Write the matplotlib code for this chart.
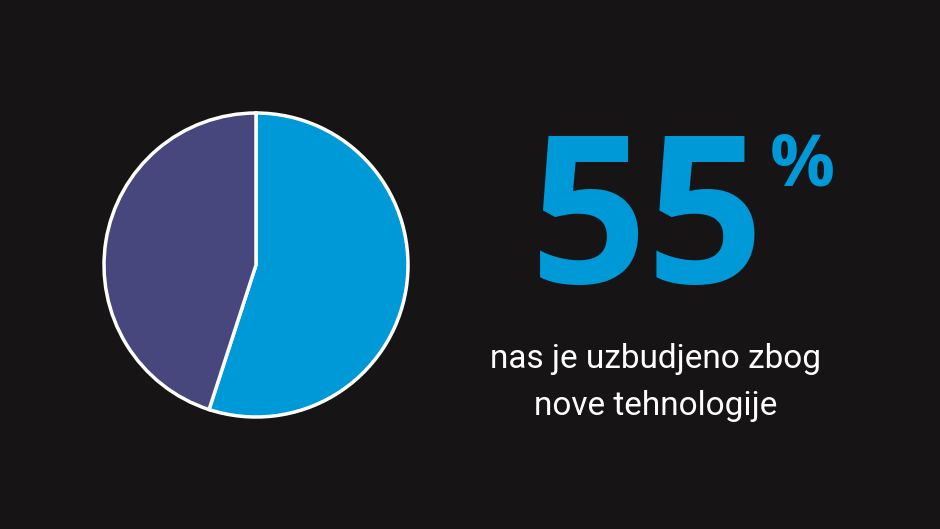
import matplotlib.pyplot as plt

# podaci
udjeli = [55, 45]
boje = ["#0099d8", "#47467d"]
postotak = "55"
opis = "nas je uzbudjeno zbog\nnove tehnologije"

W, H = 940, 529
pozadina = "#161415"

fig = plt.figure(figsize=(W / 100, H / 100), dpi=100, facecolor=pozadina)

# pita
cx, cy, r = 256, H - 265, 152
pol = 162
ax = fig.add_axes([(cx - pol) / W, (cy - pol) / H, 2 * pol / W, 2 * pol / H])
ax.set_facecolor(pozadina)
ax.pie(udjeli, colors=boje, startangle=90, counterclock=False,
       wedgeprops=dict(edgecolor="white", linewidth=2.5))
ax.set_xlim(-pol / r, pol / r)
ax.set_ylim(-pol / r, pol / r)
ax.set_aspect("equal")
ax.axis("off")

# tekst
fig.text(530 / W, 1 - 283 / H, postotak, color=boje[0], fontsize=148,
         family="Open Sans", fontweight="bold", ha="left", va="baseline")
fig.text(770 / W, 1 - 185 / H, "%", color=boje[0], fontsize=52,
         family="Open Sans", fontweight="bold", ha="left", va="baseline")
for i, red in enumerate(opis.split("\n")):
    fig.text(656 / W, 1 - (368 + 47 * i) / H, red, color="white", fontsize=24,
             family="Roboto", ha="center", va="baseline")

fig.savefig("out.png", dpi=100, facecolor=pozadina)
